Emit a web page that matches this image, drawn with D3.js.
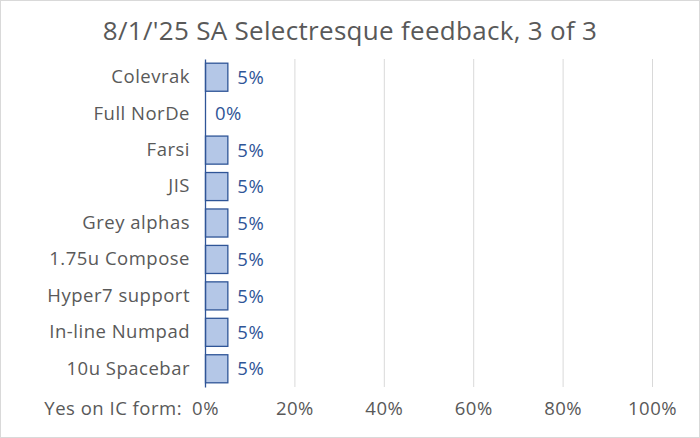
<!DOCTYPE html>
<html>
<head>
<meta charset="utf-8">
<script src="https://cdn.jsdelivr.net/npm/d3@7"></script>
<style>
  body { margin: 0; background: #fff; }
  svg text { font-family: "Open Sans", sans-serif; }
</style>
</head>
<body>
<svg id="chart" width="700" height="438"></svg>
<script>
var categories = ['Colevrak', 'Full NorDe', 'Farsi', 'JIS', 'Grey alphas', '1.75u Compose', 'Hyper7 support', 'In-line Numpad', '10u Spacebar']
var values = [0.05, 0, 0.05, 0.05, 0.05, 0.05, 0.05, 0.05, 0.05]
var tickValues = [0, 0.2, 0.4, 0.6, 0.8, 1]
var title = "8/1/'25 SA Selectresque feedback, 3 of 3"
var axisPrefix = 'Yes on IC form:'

var font = '"Open Sans", sans-serif'
var fs = 18.5
var ls = '0.5px'
var svg = d3.select('#chart')
var width = +svg.attr('width'), height = +svg.attr('height')

svg.append('rect')
	.attr('x', 0.5).attr('y', 0.5)
	.attr('width', width - 1).attr('height', height - 1)
	.attr('fill', '#fff').attr('stroke', '#d9d9d9')

svg.append('text')
	.attr('x', 350).attr('y', 40)
	.attr('text-anchor', 'middle')
	.attr('font-size', 26)
	.attr('letter-spacing', '0.3px')
	.attr('fill', '#595959')
	.text(title)

var margin = {top: 59, left: 205, right: 48, bottom: 51}
var w = width - margin.left - margin.right
var h = height - margin.top - margin.bottom

var g = svg.append('g').attr('transform', 'translate(' + margin.left + ',' + margin.top + ')')

var x = d3.scaleLinear().domain([0, 1]).range([0, w])
var y = d3.scaleBand().domain(categories).range([0, h]).paddingInner(0.23).paddingOuter(0.115)

// gridlines
g.append('g')
	.selectAll('line')
	.data(tickValues.slice(1))
	.enter()
	.append('line')
	.attr('x1', function(d) { return x(d) + 0.5 }).attr('x2', function(d) { return x(d) + 0.5 })
	.attr('y1', 0).attr('y2', h)
	.attr('stroke', '#d9d9d9').attr('stroke-width', 1)

// bars (zero values draw nothing)
g.append('g')
	.selectAll('rect')
	.data(categories.filter(function(c, i) { return values[i] > 0 }))
	.enter()
	.append('rect')
	.attr('x', 0.5)
	.attr('y', function(c) { return y(c) })
	.attr('width', function(c) { return x(values[categories.indexOf(c)]) })
	.attr('height', y.bandwidth())
	.attr('fill', '#b4c7e7').attr('stroke', '#2f5597').attr('stroke-width', 1.3)

// data labels
g.append('g')
	.selectAll('text')
	.data(categories)
	.enter()
	.append('text')
	.attr('x', function(c, i) { return x(values[i]) + 10 })
	.attr('y', function(c) { return y(c) + y.bandwidth() / 2 })
	.attr('dy', '0.36em')
	.attr('font-size', fs)
	.attr('letter-spacing', ls)
	.attr('fill', '#2f5597')
	.text(function(c, i) { return d3.format('.0%')(values[i]) })

// y axis
var yAxis = g.append('g')
	.call(d3.axisLeft(y).tickSize(0).tickPadding(15))
yAxis.select('.domain').attr('stroke', '#2f5597').attr('stroke-width', 1.3)
yAxis.selectAll('text')
	.attr('font-size', fs)
	.attr('letter-spacing', ls)
	.attr('fill', '#595959')
	.style('font-family', font)

// x axis
var xAxis = g.append('g')
	.attr('transform', 'translate(0,' + h + ')')
	.call(d3.axisBottom(x).tickValues(tickValues).tickFormat(d3.format('.0%')).tickSize(0).tickPadding(15))
xAxis.select('.domain').remove()
xAxis.selectAll('text')
	.attr('font-size', fs)
	.attr('letter-spacing', ls)
	.attr('fill', '#595959')
	.style('font-family', font)

g.append('text')
	.attr('x', x(0) - 23).attr('y', h + 15)
	.attr('dy', '0.71em')
	.attr('text-anchor', 'end')
	.attr('font-size', fs)
	.attr('letter-spacing', ls)
	.attr('fill', '#595959')
	.text(axisPrefix)
</script>
</body>
</html>
